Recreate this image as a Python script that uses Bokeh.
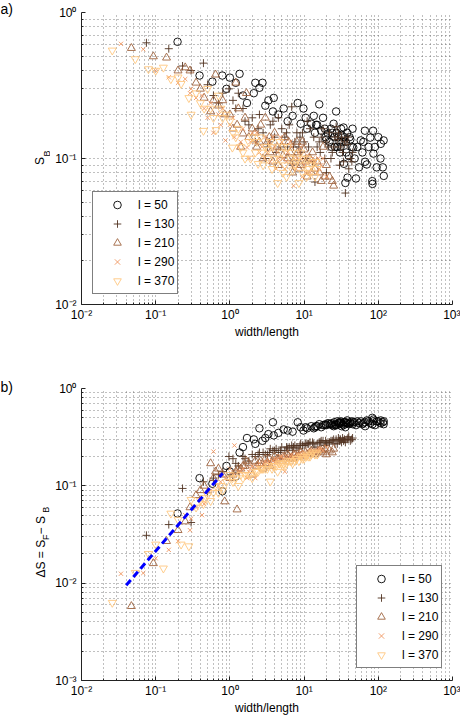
import math
from bokeh.plotting import figure
from bokeh.models import Range1d, FixedTicker, CustomJSTickFormatter
from bokeh.layouts import column, row
from bokeh.core.properties import value
from bokeh.embed import file_html
from bokeh.resources import INLINE

FONT = "Liberation Sans"

levels = ["l = 50", "l = 130", "l = 210", "l = 290", "l = 370"]
colors = ["#000000", "#503220", "#9f643f", "#ef955f", "#ffc77f"]
markers = ["circle", "cross", "triangle", "x", "inverted_triangle"]
msizes = [7.5, 8, 8, 6, 8]

# ---- l = 50 ----
x50 = [0.197, 0.39, 0.58, 0.79, 1.0, 1.2, 1.35, 1.7, 2.1, 2.5, 2.75, 3.0, 3.8, 3.9, 4.5,
       5.3, 7.0, 8.2, 9.0, 9.8, 11, 12.5, 13.5, 14, 16, 17, 18, 20, 21, 23, 25, 25.5, 26,
       27, 28, 30, 30.5, 32, 34, 34.5, 36, 38, 38.5, 40, 42, 45, 46, 50, 55, 58, 61, 66,
       66.5, 70, 78, 83, 83.5, 85, 86, 90, 95, 107, 108, 115, 118, 118.5,
       22, 24, 29, 31, 33, 35, 37, 44, 15, 19,
       3.3, 6.0, 10.5, 14.5, 19.5, 23.5, 27.5, 31.5, 36.5, 41, 48, 52, 63, 74, 100, 2.2,
       1.5, 0.9]
sb50 = [0.63, 0.37, 0.336, 0.37, 0.358, 0.33, 0.38, 0.24, 0.28, 0.305, 0.33, 0.23, 0.21,
        0.26, 0.20, 0.22, 0.196, 0.24, 0.173, 0.22, 0.16, 0.173, 0.196, 0.15, 0.235, 0.155,
        0.19, 0.135, 0.148, 0.16, 0.173, 0.14, 0.12, 0.21, 0.12, 0.13, 0.11, 0.145, 0.163,
        0.092, 0.068, 0.15, 0.074, 0.104, 0.135, 0.16, 0.119, 0.073, 0.087, 0.133, 0.11,
        0.155, 0.095, 0.091, 0.139, 0.07, 0.067, 0.155, 0.108, 0.12, 0.087, 0.10, 0.126,
        0.087, 0.133, 0.076,
        0.13, 0.15, 0.14, 0.12, 0.13, 0.14, 0.11, 0.12, 0.17, 0.16,
        0.25, 0.18, 0.19, 0.17, 0.14, 0.12, 0.15, 0.16, 0.13, 0.14, 0.10, 0.12, 0.13, 0.12,
        0.14, 0.33, 0.27, 0.30]
ds50 = [0.052, 0.12, 0.105, 0.088, 0.14, 0.125, 0.22, 0.31, 0.30, 0.39, 0.29, 0.31, 0.45,
        0.33, 0.35, 0.38, 0.36, 0.45, 0.40, 0.37, 0.39, 0.41, 0.39, 0.40, 0.43, 0.40, 0.42,
        0.42, 0.44, 0.43, 0.41, 0.45, 0.42, 0.43, 0.46, 0.44, 0.45, 0.41, 0.42, 0.45, 0.40,
        0.47, 0.44, 0.43, 0.45, 0.43, 0.45, 0.42, 0.44, 0.46, 0.43, 0.45, 0.41, 0.47, 0.44,
        0.50, 0.43, 0.46, 0.48, 0.42, 0.46, 0.44, 0.47, 0.45, 0.43, 0.46,
        0.43, 0.42, 0.44, 0.46, 0.43, 0.45, 0.44, 0.46, 0.41, 0.42,
        0.34, 0.37, 0.40, 0.41, 0.43, 0.44, 0.42, 0.44, 0.45, 0.44, 0.45, 0.46, 0.44, 0.46,
        0.46, 0.27, 0.25, 0.16]

# ---- l = 130 ----
x130 = [0.075, 0.15, 0.23, 0.3, 0.44, 0.5, 0.6, 0.7, 0.8, 0.97, 1.1, 1.3, 1.5, 1.8, 2.0,
        2.5, 3.0, 3.5, 4.0, 4.5, 5.0, 6.0, 6.8, 7.0, 8.0, 9.0, 10, 11, 12, 13, 14, 15, 17,
        19, 20, 22, 25, 27, 28, 30, 32, 33, 36, 38, 40, 42, 45,
        2.2, 2.8, 3.2, 4.2, 5.5, 6.3, 7.5, 8.5, 9.5, 10.5, 16, 18, 21, 24, 26, 29, 35, 44,
        1.2, 1.6, 2.4, 3.4, 3.8, 4.8, 5.8, 7.2, 8.8, 11.5, 13.5, 16.5, 19.5, 23, 31, 39, 34]
sb130 = [0.62, 0.565, 0.43, 0.40, 0.45, 0.32, 0.27, 0.24, 0.28, 0.30, 0.25, 0.28, 0.22,
         0.17, 0.19, 0.20, 0.10, 0.17, 0.14, 0.19, 0.16, 0.12, 0.226, 0.09, 0.15, 0.11,
         0.13, 0.18, 0.16, 0.095, 0.069, 0.12, 0.14, 0.10, 0.08, 0.15, 0.12, 0.165, 0.135,
         0.09, 0.14, 0.11, 0.058, 0.125, 0.085, 0.10, 0.11,
         0.13, 0.15, 0.12, 0.11, 0.14, 0.17, 0.13, 0.12, 0.15, 0.10, 0.13, 0.16, 0.12,
         0.11, 0.14, 0.15, 0.13, 0.095,
         0.22, 0.18, 0.16, 0.13, 0.18, 0.12, 0.15, 0.12, 0.14, 0.12, 0.14, 0.11, 0.13,
         0.10, 0.12, 0.14, 0.095]
ds130 = [0.031, 0.040, 0.094, 0.042, 0.11, 0.085, 0.12, 0.13, 0.14, 0.20, 0.19, 0.16, 0.20,
         0.18, 0.21, 0.22, 0.21, 0.24, 0.23, 0.22, 0.25, 0.24, 0.26, 0.23, 0.25, 0.27, 0.26,
         0.27, 0.28, 0.28, 0.25, 0.27, 0.29, 0.26, 0.27, 0.28, 0.30, 0.30, 0.27, 0.29, 0.28,
         0.31, 0.28, 0.30, 0.32, 0.29, 0.31,
         0.20, 0.22, 0.21, 0.24, 0.23, 0.25, 0.26, 0.24, 0.26, 0.27, 0.28, 0.29, 0.28,
         0.29, 0.27, 0.31, 0.30, 0.30,
         0.17, 0.19, 0.21, 0.22, 0.23, 0.23, 0.25, 0.25, 0.26, 0.27, 0.27, 0.28, 0.29,
         0.29, 0.30, 0.31, 0.29]

# ---- l = 210 ----
x210 = [0.047, 0.093, 0.14, 0.2, 0.25, 0.29, 0.35, 0.45, 0.55, 0.6, 0.64, 0.7, 0.85, 1.0,
        1.2, 1.25, 1.5, 1.67, 1.8, 2.0, 2.5, 2.8, 3.0, 3.5, 4.0, 4.5, 5.0, 6.0, 7.0, 8.0,
        9.0, 10, 11, 12, 14, 16, 18, 20, 22, 25,
        1.1, 1.4, 2.2, 3.2, 3.8, 5.5, 6.5, 7.5, 8.5, 9.5, 13, 15, 17, 24,
        0.4, 0.8, 1.3, 1.6, 2.3, 2.6, 3.4, 4.3, 5.2, 6.2, 7.2, 8.2, 10.5, 12.5, 19]
sb210 = [0.57, 0.50, 0.49, 0.40, 0.42, 0.40, 0.33, 0.26, 0.21, 0.25, 0.375, 0.23, 0.20,
         0.20, 0.33, 0.17, 0.148, 0.28, 0.14, 0.16, 0.13, 0.10, 0.19, 0.11, 0.15, 0.09,
         0.12, 0.10, 0.08, 0.13, 0.09, 0.115, 0.075, 0.10, 0.085, 0.08, 0.12, 0.09, 0.075,
         0.065,
         0.16, 0.12, 0.15, 0.13, 0.095, 0.14, 0.11, 0.10, 0.085, 0.13, 0.11, 0.095, 0.07,
         0.07,
         0.30, 0.25, 0.22, 0.19, 0.12, 0.17, 0.14, 0.12, 0.105, 0.13, 0.095, 0.11, 0.095,
         0.08, 0.075]
ds210 = [0.0058, 0.016, 0.027, 0.035, 0.043, 0.06, 0.08, 0.10, 0.17, 0.12, 0.14, 0.15,
         0.069, 0.12, 0.14, 0.057, 0.16, 0.18, 0.17, 0.13, 0.17, 0.15, 0.19, 0.16, 0.20,
         0.19, 0.18, 0.21, 0.19, 0.20, 0.22, 0.20, 0.21, 0.22, 0.21, 0.23, 0.22, 0.21, 0.23,
         0.24,
         0.13, 0.15, 0.18, 0.17, 0.18, 0.20, 0.19, 0.21, 0.20, 0.21, 0.22, 0.22, 0.23, 0.22,
         0.09, 0.13, 0.15, 0.16, 0.16, 0.18, 0.19, 0.19, 0.20, 0.20, 0.21, 0.21, 0.22,
         0.23, 0.24]

# ---- l = 290 ----
x290 = [0.034, 0.068, 0.1, 0.15, 0.2, 0.25, 0.29, 0.3, 0.42, 0.45, 0.5, 0.6, 0.7, 0.8,
        0.87, 1.0, 1.15, 1.3, 1.7, 2.0, 2.2, 2.5, 3.0, 3.5, 4.0, 4.5, 5.0, 5.5, 6.0, 7.2,
        8.0, 9.0, 10, 11, 12, 14, 16, 18, 20,
        1.5, 1.8, 2.7, 3.2, 3.8, 4.2, 5.2, 6.5, 7.0, 8.5, 9.5, 13, 15, 17,
        0.35, 0.55, 0.75, 1.1, 1.4, 1.9, 2.3, 2.9, 3.4, 4.3, 4.8, 5.8, 6.8, 7.8, 9.2, 10.5,
        12.5, 15.5]
sb290 = [0.61, 0.56, 0.40, 0.36, 0.33, 0.35, 0.28, 0.30, 0.27, 0.22, 0.19, 0.15, 0.20,
         0.22, 0.133, 0.17, 0.14, 0.12, 0.119, 0.15, 0.13, 0.11, 0.14, 0.095, 0.12, 0.10,
         0.13, 0.085, 0.11, 0.065, 0.10, 0.12, 0.09, 0.105, 0.08, 0.095, 0.085, 0.10, 0.075,
         0.16, 0.10, 0.12, 0.11, 0.14, 0.085, 0.10, 0.13, 0.09, 0.11, 0.075, 0.10, 0.08,
         0.09,
         0.26, 0.24, 0.17, 0.19, 0.13, 0.13, 0.15, 0.10, 0.13, 0.11, 0.14, 0.095, 0.12,
         0.085, 0.10, 0.08, 0.095, 0.10]
ds290 = [0.0125, 0.0127, 0.018, 0.022, 0.027, 0.05, 0.035, 0.046, 0.05, 0.065, 0.09, 0.225,
         0.10, 0.13, 0.12, 0.15, 0.26, 0.14, 0.12, 0.16, 0.12, 0.17, 0.18, 0.16, 0.19, 0.18,
         0.20, 0.14, 0.18, 0.19, 0.21, 0.20, 0.22, 0.20, 0.23, 0.22, 0.24, 0.23, 0.25,
         0.15, 0.14, 0.16, 0.17, 0.18, 0.17, 0.19, 0.20, 0.19, 0.21, 0.20, 0.23, 0.23, 0.24,
         0.06, 0.09, 0.11, 0.13, 0.14, 0.15, 0.16, 0.17, 0.18, 0.19, 0.20, 0.20, 0.21,
         0.20, 0.22, 0.21, 0.22, 0.23]

# ---- l = 370 ----
x370 = [0.026, 0.053, 0.08, 0.1, 0.127, 0.16, 0.2, 0.22, 0.28, 0.3, 0.35, 0.44, 0.5, 0.55,
        0.65, 0.7, 0.8, 1.0, 1.08, 1.3, 1.6, 2.0, 2.4, 2.7, 3.0, 3.5, 4.0, 4.4, 5.0, 5.5,
        6.0, 7.0, 8.0, 8.5, 9.0, 10, 11, 12, 13, 15,
        1.2, 1.4, 1.8, 2.2, 2.6, 3.2, 3.8, 4.2, 4.7, 5.2, 6.5, 7.5, 9.5, 11.5, 14, 0.9,
        0.6, 0.4,
        0.45, 0.75, 1.1, 1.5, 1.9, 2.3, 2.8, 3.3, 3.7, 4.6, 5.3, 5.8, 6.8, 7.8, 9.8, 10.8,
        12.5, 14.5]
sb370 = [0.55, 0.48, 0.41, 0.40, 0.42, 0.35, 0.36, 0.325, 0.26, 0.20, 0.28, 0.155, 0.30,
         0.22, 0.157, 0.27, 0.19, 0.18, 0.119, 0.16, 0.10, 0.14, 0.092, 0.11, 0.12, 0.13,
         0.10, 0.068, 0.11, 0.09, 0.12, 0.083, 0.10, 0.068, 0.11, 0.09, 0.10, 0.08, 0.095,
         0.085,
         0.14, 0.12, 0.13, 0.11, 0.14, 0.10, 0.12, 0.09, 0.13, 0.08, 0.10, 0.09, 0.08,
         0.085, 0.075, 0.20, 0.19, 0.24,
         0.22, 0.22, 0.15, 0.11, 0.10, 0.13, 0.09, 0.115, 0.085, 0.10, 0.12, 0.075, 0.11,
         0.095, 0.10, 0.075, 0.09, 0.095]
ds370 = [0.0063, 0.0128, 0.02, 0.025, 0.0142, 0.052, 0.045, 0.025, 0.024, 0.072, 0.06,
         0.065, 0.08, 0.07, 0.10, 0.085, 0.09, 0.13, 0.12, 0.10, 0.13, 0.12, 0.14, 0.15,
         0.15, 0.111, 0.16, 0.14, 0.17, 0.16, 0.18, 0.17, 0.19, 0.18, 0.20, 0.19, 0.21, 0.20,
         0.22, 0.21,
         0.12, 0.13, 0.13, 0.14, 0.15, 0.15, 0.16, 0.16, 0.17, 0.16, 0.18, 0.18, 0.19,
         0.20, 0.21, 0.11, 0.085, 0.07,
         0.075, 0.10, 0.11, 0.12, 0.13, 0.14, 0.15, 0.16, 0.15, 0.17, 0.17, 0.17, 0.18,
         0.19, 0.20, 0.20, 0.21, 0.22]

series_x = [x50, x130, x210, x290, x370]
series_sb = [sb50, sb130, sb210, sb290, sb370]
series_ds = [ds50, ds130, ds210, ds290, ds370]

# fitted power-law line in panel b
fit_x = [0.04, 0.8]
fit_y = [0.0095, 0.135]

SUP = CustomJSTickFormatter(code="""
const e = Math.round(Math.log10(tick));
const m = {'-':'\u207b','0':'\u2070','1':'\u00b9','2':'\u00b2','3':'\u00b3'};
let s = '';
for (const c of String(e)) { s += m[c]; }
return '10' + s;
""")

STRIP_W = 50
PAGE_H = 715


def decade_ticker(lo, hi):
    major = [10.0 ** e for e in range(lo, hi + 1)]
    minor = [m * 10.0 ** e for e in range(lo, hi) for m in range(2, 10)]
    return FixedTicker(ticks=major, minor_ticks=minor)


def make_fig(ylo, yhi, top, bottom, left, right):
    p = figure(x_axis_type="log", y_axis_type="log",
               x_range=Range1d(1e-2, 1e3), y_range=Range1d(10.0 ** ylo, 10.0 ** yhi),
               frame_width=371, frame_height=292,
               min_border_left=left, min_border_right=right,
               min_border_top=top, min_border_bottom=bottom,
               output_backend="svg", toolbar_location=None,
               background_fill_color="white", border_fill_color="white")
    p.outline_line_color = None
    xt = decade_ticker(-2, 3)
    yt = decade_ticker(ylo, yhi)
    p.xaxis.ticker = xt
    p.yaxis.ticker = yt
    p.xgrid.ticker = xt
    p.ygrid.ticker = yt
    for ax in (p.xaxis[0], p.yaxis[0]):
        ax.axis_line_color = "#222222"
        ax.axis_line_width = 1
        ax.major_tick_in = 4
        ax.major_tick_out = 0
        ax.minor_tick_in = 2
        ax.minor_tick_out = 0
        ax.major_tick_line_color = "#222222"
        ax.minor_tick_line_color = "#222222"
        ax.formatter = SUP
        ax.major_label_text_font = FONT
        ax.major_label_text_font_size = "12px"
        ax.major_label_text_color = "black"
        ax.major_label_standoff = 5
    p.xaxis.major_label_standoff = 3
    p.xaxis.axis_label = "width/length"
    p.xaxis.axis_label_text_font = FONT
    p.xaxis.axis_label_text_font_size = "12px"
    p.xaxis.axis_label_text_font_style = "normal"
    p.xaxis.axis_label_text_color = "black"
    p.xaxis.axis_label_standoff = 0
    for g in (p.xgrid[0], p.ygrid[0]):
        g.grid_line_color = "#555555"
        g.grid_line_alpha = 0.75
        g.grid_line_dash = "1 3"
        g.minor_grid_line_color = "#555555"
        g.minor_grid_line_alpha = 0.75
        g.minor_grid_line_dash = "1 3"
    return p


def add_series(p, ys):
    for xs, yv, lab, col, mk, sz in zip(series_x, ys, levels, colors, markers, msizes):
        p.scatter(x=xs, y=yv, marker=mk, size=sz, fill_color=None,
                  line_color=col, line_width=0.9, legend_label=lab)


def style_legend(p, loc):
    lg = p.legend[0]
    lg.location = loc
    lg.border_line_color = "black"
    lg.border_line_width = 1
    lg.background_fill_color = "white"
    lg.background_fill_alpha = 1
    lg.label_text_font = FONT
    lg.label_text_font_size = "12px"
    lg.label_text_color = "black"
    lg.padding = 3
    lg.spacing = 0
    lg.margin = 0
    lg.glyph_height = 19
    lg.label_height = 19
    lg.glyph_width = 42
    lg.label_standoff = 0


# ---- left strip holding panel tags and y-axis titles (page coordinates) ----
strip = figure(width=STRIP_W, height=PAGE_H, x_range=Range1d(0, STRIP_W),
               y_range=Range1d(0, PAGE_H), min_border=0,
               x_axis_location=None, y_axis_location=None,
               output_backend="svg", toolbar_location=None,
               background_fill_color="white", border_fill_color="white")
strip.outline_line_color = None
strip.grid.visible = False


def txt(xp, yp, s, size, align="center", angle=0.0):
    strip.text(x=[xp], y=[PAGE_H - yp], text=[s], angle=angle,
               text_font=value(FONT), text_font_size=value(size),
               text_align=align, text_baseline="middle", text_color="black")


rot = math.pi / 2
txt(0, 8, "a)", "14px", align="left")
txt(39, 160.5, "S", "12px", angle=rot)
txt(46, 153, "B", "9px", angle=rot)
txt(0, 386, "b)", "14px", align="left")
txt(40, 577, "\u0394S = S", "12px", align="left", angle=rot)
txt(45, 539.4, "F", "9px", align="left", angle=rot)
txt(40, 533.9, " \u2212 S", "12px", align="left", angle=rot)
txt(45, 512.3, "B", "9px", align="left", angle=rot)

# ---- panel a ----
pa = make_fig(-2, 0, top=12, bottom=35, left=81 - STRIP_W, right=8)
add_series(pa, series_sb)
style_legend(pa, (11, 10))

# ---- panel b ----
pb = make_fig(-3, 0, top=47, bottom=35, left=81 - STRIP_W, right=8)
add_series(pb, series_ds)
pb.line(x=fit_x, y=fit_y, line_color="#0000ff", line_width=3, line_dash="7 4")
style_legend(pb, (275, 12))

layout = row(strip, column(pa, pb, spacing=0), spacing=0,
             styles={"position": "absolute", "left": "0px", "top": "0px"})

open("out.html", "w").write(file_html(layout, INLINE))
